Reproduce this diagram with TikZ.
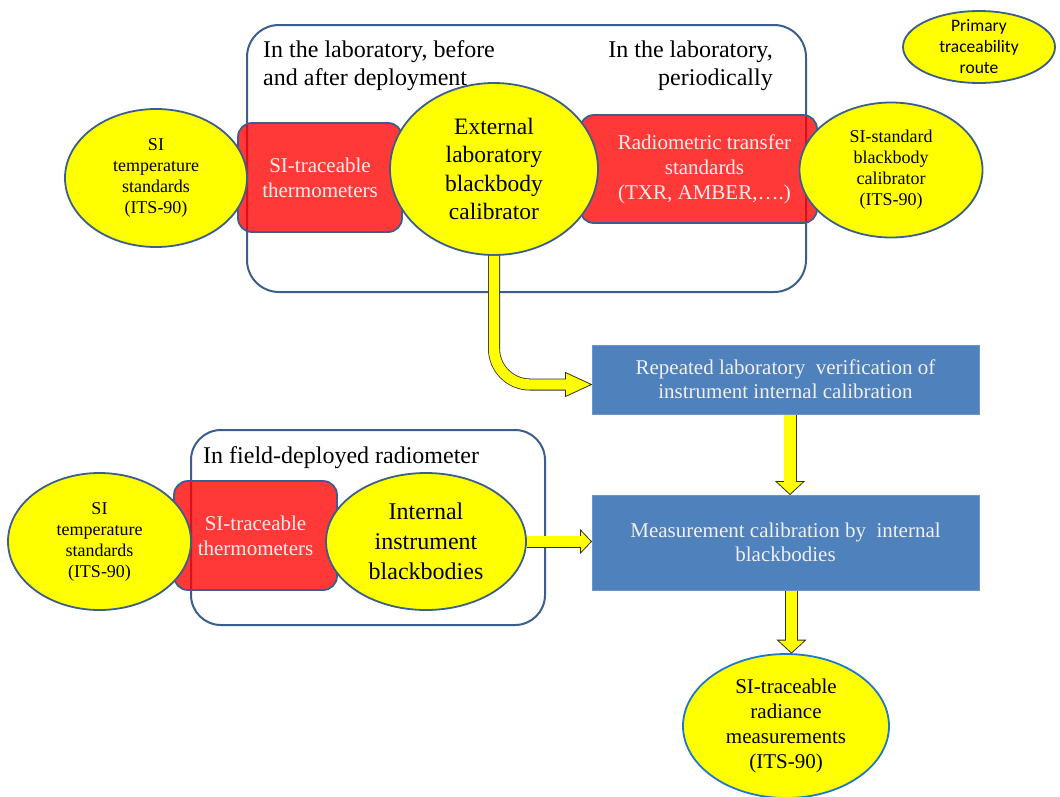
\documentclass[tikz,border=0pt]{standalone}
\usepackage{fontspec}
\setmainfont{Liberation Serif}
\newfontfamily\calib{Carlito}
\usetikzlibrary{shapes.geometric,calc}
\definecolor{yel}{HTML}{FFFF00}
\definecolor{outl}{HTML}{3B5E8C}
\definecolor{bluefill}{HTML}{4F81BD}
\definecolor{blueedge}{HTML}{6E95C8}
\definecolor{ellblue}{HTML}{1F78C8}
\definecolor{arrowedge}{HTML}{303030}
\tikzset{
 yell/.style={ellipse, draw=outl, line width=1.8pt, fill=yel, inner sep=0pt, align=center},
 redbox/.style={rectangle, rounded corners=14pt, draw=outl, line width=1.8pt, fill=red, fill opacity=0.78, text opacity=1, text=white!92!red, align=center, inner sep=0pt},
 bluebox/.style={rectangle, draw=blueedge, line width=1pt, fill=bluefill, text=white!94!black, align=center, inner sep=0pt},
 framebox/.style={rectangle, draw=outl, line width=2pt, rounded corners=32pt, inner sep=0pt},
 lbl/.style={inner sep=0pt},
 shaftout/.style={draw=arrowedge, line width=#1},
 shaftin/.style={draw=yel, line width=#1},
 headst/.style={fill=yel, draw=arrowedge, line width=0.8pt, line join=miter},
 fs18/.style={font=\fontsize{18}{21}\selectfont},
 fs21/.style={font=\fontsize{21}{25}\selectfont},
 fs24/.style={font=\fontsize{24}{28}\selectfont},
}
\begin{document}
\begin{tikzpicture}[x=1pt,y=-1pt]
\useasboundingbox (0,0) rectangle (1060,796);
% frames
\node[framebox, minimum width=559pt, minimum height=267pt] (labbox) at (526.5,158.5) {};
\node[framebox, rounded corners=30pt, minimum width=354pt, minimum height=195pt] (fieldbox) at (368,527.5) {};
\node[lbl, fs24, align=left, anchor=north west] (lab1) at (263,40.5) {In the laboratory, before\\and after deployment};
\node[lbl, fs24, align=right, anchor=north east] (lab2) at (773,40.5) {In the laboratory,\\periodically};
\node[lbl, fs24, align=left, anchor=north west] (lab3) at (203,446.5) {In field-deployed radiometer};
% red boxes (under the ellipses)
\node[redbox, fs21, minimum width=164pt, minimum height=109pt] (thm1) at (320,177.5) {SI-traceable\\thermometers};
\node[redbox, fs21, minimum width=237pt, minimum height=108pt] (rts) at (698.5,169) {\hspace*{12pt}Radiometric transfer\\\hspace*{12pt}standards\\\hspace*{12pt}(TXR, AMBER,….)};
\node[redbox, fs21, minimum width=163pt, minimum height=109pt] (thm2) at (255.5,535.5) {SI-traceable\\thermometers};
% ellipses
\node[yell, fs18, minimum width=182pt, minimum height=138pt] (sit1) at (156,178) {SI\\temperature\\standards\\(ITS-90)};
\node[yell, fs18, minimum width=183pt, minimum height=135pt] (sis) at (891,170) {SI-standard\\blackbody\\calibrator\\(ITS-90)};
\node[yell, fs18, minimum width=183pt, minimum height=137pt] (sit2) at (99.5,541.5) {SI\\temperature\\standards\\(ITS-90)};
\node[yell, font=\fontsize{23.5}{28.5}\selectfont, minimum width=208pt, minimum height=172pt] (ext) at (494,169) {External\\laboratory\\blackbody\\calibrator};
\node[yell, font=\fontsize{24}{30}\selectfont, minimum width=200pt, minimum height=137pt] (int) at (426,541.5) {Internal\\instrument\\blackbodies};
% blue boxes
\node[bluebox, font=\fontsize{21}{24}\selectfont, minimum width=387pt, minimum height=69pt] (rep) at (785.5,379.5) {Repeated laboratory~ verification of\\instrument internal calibration};
\node[bluebox, font=\fontsize{21}{24}\selectfont, minimum width=387pt, minimum height=95pt] (meas) at (785.5,542.5) {Measurement calibration by~ internal\\blackbodies};
\node[yell, draw=ellblue, fs21, minimum width=206pt, minimum height=144pt] (sir) at (786,726) {SI-traceable\\radiance\\measurements\\(ITS-90)};
\node[yell, inner sep=-8pt, font=\calib\fontsize{17.5}{21}\selectfont, minimum width=152pt, minimum height=72pt] (prim) at (979,47) {Primary\\traceability\\route};
% curved arrow ext -> rep
\coordinate (a4s) at (ext.south);
\coordinate (a4t) at ([yshift=-5pt]rep.west);
\draw[shaftout=12pt, rounded corners=36pt] (a4s) |- ([xshift=-26pt]a4t);
\filldraw[headst] (a4t) -- ++(-26,-12) -- ++(0,24) -- cycle;
\draw[shaftin=10.4pt, rounded corners=36pt] (a4s) |- ([xshift=-25pt]a4t);
% rep -> meas
\coordinate (a1s) at ([xshift=4.5pt]rep.south);
\coordinate (a1t) at ([xshift=4.5pt]meas.north);
\draw[shaftout=13pt] (a1s) -- ([yshift=13pt]a1t);
\filldraw[headst] (a1t) -- ++(-14,-13) -- ++(28,0) -- cycle;
\draw[shaftin=11.4pt] (a1s) -- ([yshift=12pt]a1t);
% meas -> sir
\coordinate (a2s) at ([xshift=6pt]meas.south);
\coordinate (a2t) at (a2s |- sir.north);
\draw[shaftout=13pt] (a2s) -- ([yshift=13pt]a2t);
\filldraw[headst] (a2t) -- ++(-14,-13) -- ++(28,0) -- cycle;
\draw[shaftin=11.4pt] (a2s) -- ([yshift=12pt]a2t);
% int -> meas
\coordinate (a3s) at (int.east);
\coordinate (a3t) at (int.east -| meas.west);
\draw[shaftout=12pt] (a3s) -- ([xshift=-11pt]a3t);
\filldraw[headst] (a3t) -- ++(-11,-11.5) -- ++(0,23) -- cycle;
\draw[shaftin=10.4pt] (a3s) -- ([xshift=-10pt]a3t);
\end{tikzpicture}
\end{document}
